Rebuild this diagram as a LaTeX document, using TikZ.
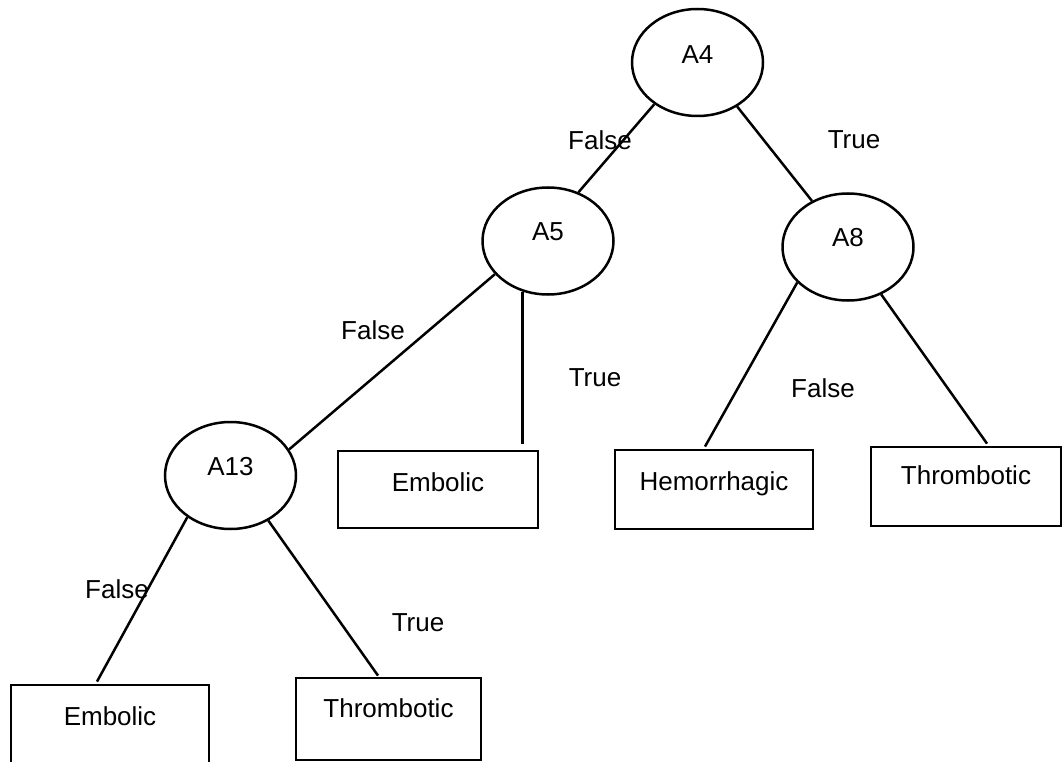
\documentclass[tikz,border=0pt]{standalone}
\usepackage{fontspec}
\setmainfont{Liberation Sans}
\usetikzlibrary{shapes.geometric,calc}
\begin{document}
\begin{tikzpicture}[x=1pt,y=-1pt,line width=2.5pt,
  every node/.style={font=\fontsize{26}{30}\selectfont},
  dnode/.style={ellipse,draw,minimum width=131,minimum height=107,inner sep=0},
  leaf/.style={rectangle,draw,inner sep=0,line width=2.8pt},
  elbl/.style={inner sep=0}]
\useasboundingbox[fill=white] (0,0) rectangle (1063,762);
\clip (0,0) rectangle (1063,762);
% decision nodes
\node[dnode,label={[yshift=7.5]center:A4}] (A4) at (697.5,62.5) {};
\node[dnode,label={[yshift=9]center:A5}] (A5) at (548,241) {};
\node[dnode,label={[yshift=9]center:A8}] (A8) at (848,247) {};
\node[dnode,label={[yshift=8.5]center:A13}] (A13) at (230.5,475.5) {};
% leaves
\node[leaf,minimum width=200,minimum height=77,label={[yshift=7.5]center:Embolic}] (E1) at (438,489.5) {};
\node[leaf,minimum width=198,minimum height=79,label={[yshift=6]center:Hemorrhagic}] (H) at (714,489.5) {};
\node[leaf,minimum width=190,minimum height=79,label={[yshift=11.5]center:Thrombotic}] (T1) at (966,486.5) {};
\node[leaf,minimum width=198,minimum height=79,label={[yshift=8.5]center:Embolic}] (E2) at (110,724.5) {};
\node[leaf,minimum width=185,minimum height=82,label={[yshift=11]center:Thrombotic}] (T2) at (388.5,719) {};
% edge labels
\node[elbl] (l1) at (600,140) {False};
\node[elbl] (l2) at (854,140) {True};
\node[elbl] (l3) at (373,330) {False};
\node[elbl] (l4) at (595,378) {True};
\node[elbl] (l5) at (823,388) {False};
\node[elbl] (l6) at (117,589) {False};
\node[elbl] (l7) at (418,623) {True};
% connectors
\draw (A4.224) -- (A5.58);
\draw (A4.312) -- (A8.128);
\draw (A5.212) -- (A13.24);
\draw[shorten >=6pt] (A5.243) -- (A5.243 |- E1.north);
\draw (A8.215) -- ($(H.north)+(-9,-2)$);
\draw (A8.305) -- ($(T1.north)+(21,-2)$);
\draw (A13.224) -- ($(E2.north)+(-13,-2)$);
\draw (A13.310) -- ($(T2.north)+(-10.5,-1)$);
\end{tikzpicture}
\end{document}
